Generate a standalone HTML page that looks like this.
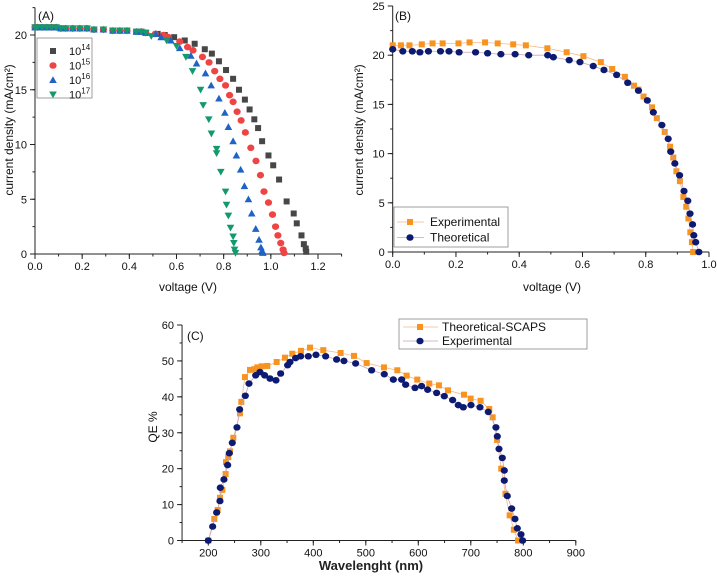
<!DOCTYPE html>
<html><head><meta charset="utf-8"><style>
html,body{margin:0;padding:0;background:#fff;}
svg{display:block;font-family:"Liberation Sans",sans-serif;}
</style></head><body>
<svg id="fig" width="717" height="576" viewBox="0 0 717 576" xmlns="http://www.w3.org/2000/svg"></svg>
<script>
// ---------- Panel A data ----------
const aFlatV = [0,0.01,0.03,0.05,0.07,0.09,0.11,0.13,0.16,0.19,0.22,0.25,0.29,0.33,0.36,0.39,0.43,0.45,0.47];
const aFlatJ = [20.7,20.7,20.7,20.7,20.7,20.7,20.6,20.6,20.6,20.6,20.6,20.5,20.5,20.4,20.4,20.4,20.3,20.3,20.2];
const a14V = [0.52,0.55,0.59,0.635,0.677,0.72,0.75,0.78,0.81,0.84,0.865,0.89,0.91,0.93,0.946,0.963,0.99,1.01,1.035,1.067,1.097,1.11,1.13,1.14,1.148,1.15];
const a14J = [20.1,20.0,19.8,19.5,19.2,18.7,18.3,17.6,16.8,16.0,15.0,14.1,13.2,12.3,11.5,10.3,9.0,8.1,6.8,4.8,3.7,2.8,1.7,0.9,0.5,0.2];
const a15V = [0.51,0.545,0.566,0.614,0.647,0.67,0.71,0.738,0.762,0.784,0.808,0.825,0.84,0.857,0.874,0.892,0.915,0.937,0.956,0.971,0.99,1.007,1.02,1.03,1.042,1.052,1.056];
const a15J = [20.1,20.0,19.8,19.4,18.9,18.6,18.0,17.5,16.7,16.0,15.4,14.5,13.9,13.0,12.2,11.1,9.7,8.5,7.2,5.7,4.7,3.6,2.5,1.7,1.0,0.4,0.1];
const a16V = [0.512,0.535,0.576,0.614,0.661,0.685,0.723,0.747,0.78,0.805,0.82,0.84,0.854,0.872,0.888,0.905,0.919,0.936,0.95,0.958,0.963,0.966];
const a16J = [20.1,19.8,19.5,18.8,18.1,17.4,16.5,15.4,14.2,12.9,11.6,10.3,9.0,7.7,6.2,5.0,3.7,2.3,1.3,0.6,0.3,0.1];
const a17V = [0.493,0.558,0.6,0.64,0.668,0.702,0.713,0.737,0.748,0.77,0.77,0.788,0.808,0.812,0.82,0.829,0.84,0.843,0.846,0.85];
const a17J = [19.9,19.5,19.0,18.0,16.7,15.0,13.6,12.3,11.0,9.6,9.2,7.5,5.7,4.5,3.5,2.4,1.6,1.0,0.4,0.1];
const aXTicks = [0,0.2,0.4,0.6,0.8,1.0,1.2];
const aXLabels = ["0.0","0.2","0.4","0.6","0.8","1.0","1.2"];
const aYTicks = [0,5,10,15,20];
// ---------- Panel B data ----------
const bExpV = [0,0.026,0.053,0.092,0.126,0.158,0.208,0.243,0.292,0.332,0.381,0.421,0.489,0.55,0.603,0.658,0.694,0.734,0.763,0.777,0.793,0.82,0.835,0.86,0.877,0.887,0.897,0.908,0.919,0.928,0.935,0.941,0.946,0.95];
const bExpJ = [21.0,21.0,21.0,21.1,21.2,21.2,21.2,21.3,21.3,21.2,21.1,21.0,20.7,20.3,19.9,19.3,18.6,17.8,16.9,16.5,15.8,14.7,13.6,12.2,10.7,9.6,8.2,7.2,5.6,4.6,3.4,2.0,1.0,0.0];
const bThV = [0,0.032,0.062,0.086,0.113,0.151,0.178,0.21,0.262,0.3,0.342,0.387,0.43,0.49,0.508,0.558,0.592,0.634,0.668,0.708,0.743,0.777,0.805,0.824,0.851,0.871,0.879,0.892,0.907,0.921,0.933,0.94,0.948,0.952,0.958,0.968];
const bThJ = [20.6,20.4,20.4,20.3,20.4,20.4,20.4,20.3,20.3,20.2,20.1,20.1,20.0,20.0,19.8,19.5,19.3,18.9,18.5,18.0,17.2,16.4,15.4,14.2,12.9,11.5,10.2,9.0,7.8,6.2,5.2,3.9,2.8,1.7,1.0,0.0];
const bXTicks = [0,0.2,0.4,0.6,0.8,1.0];
const bXLabels = ["0.0","0.2","0.4","0.6","0.8","1.0"];
const bYTicks = [0,5,10,15,20,25];
// ---------- Panel C data ----------
const cThW = [200,211.4,217.8,222.2,226.7,233,233.7,238,241.3,247.6,260.3,262.9,269.8,279.4,287.6,293.3,301.6,312.4,330.2,346,360,376.5,393.7,419,452,477.5,501.6,534.6,560,577.8,598,620.9,639.3,656.5,687,699.7,718.7,735.2,741.6,750,758,766,774,782,790];
const cThQ = [0,6.0,8.5,11.9,14.1,18.5,21.8,23.2,24.8,28.6,35.4,38.6,45.5,47.5,47.7,48.2,48.5,48.6,49.7,50.9,52.0,52.8,53.7,53.0,52.2,51.4,49.4,48.2,47.4,45.9,44.8,43.7,43.2,41.8,40.6,39.5,38.9,36.6,34.3,28,20,13,7,3,0];
const cExW = [200,208.3,215.9,222.2,222.9,229.8,236.8,240,245.7,254.6,259.7,270.5,277.5,290.2,298.4,307.3,317.5,328.9,337.8,351.1,355.6,366.3,375.9,390.5,405.1,423.5,444.4,458.4,480.6,511.1,535.2,552.4,568.3,575.9,593.7,606.3,617.8,634.9,649.5,665.4,676.2,685.7,700.3,717.5,733.3,747.9,750.5,753.7,760,763.8,763.8,769.5,777.8,784.1,788.6,795.6,798.7];
const cExQ = [0,3.9,7.8,11.0,14.7,17.0,21.0,24.3,27.2,31.5,36.5,40.3,43.7,46.0,46.9,46.0,45.1,44.6,46.5,48.8,49.7,50.8,51.3,51.3,51.7,51.3,50.4,50.0,49.3,47.4,46.3,44.8,44.8,43.4,42.5,43.0,42.0,41.1,40.2,39.1,37.7,37.1,37.7,37.1,35.8,31.5,29.0,25.5,23.0,19.5,16.7,12.4,8.9,6.0,3.4,1.7,0];
const cXTicks = [200,300,400,500,600,700,800,900];
const cYTicks = [0,10,20,30,40,50,60];

const svg = document.getElementById('fig');
const NS = 'http://www.w3.org/2000/svg';
function mk(tag, attrs, parent){
  const e = document.createElementNS(NS, tag);
  for (const k in attrs) e.setAttribute(k, attrs[k]);
  (parent||svg).appendChild(e);
  return e;
}
function txt(s, x, y, size, anchor, parent, extra){
  const t = mk('text', Object.assign({x:x, y:y, 'font-size':size, 'text-anchor':anchor||'middle', fill:'#111'}, extra||{}), parent);
  t.textContent = s;
  return t;
}
function scale(d0,d1,p0,p1){ return v => p0 + (v-d0)/(d1-d0)*(p1-p0); }

function axes(g, sx, sy, xr, yr, xTicks, xLabels, yTicks, xMinorStep, yMinorStep){
  const x0 = sx(xr[0]), x1 = sx(xr[1]), y0 = sy(yr[0]), y1 = sy(yr[1]);
  const xa = mk('line',{x1:x0,y1:y0,x2:x1,y2:y0,stroke:'#222','stroke-width':1},g);
  
  
  const ya = mk('line',{x1:x0,y1:y0,x2:x0,y2:y1,stroke:'#222','stroke-width':1},g);
  
  
  for (let v = xr[0]; v <= xr[1]+1e-9; v += xMinorStep){
    mk('line',{x1:sx(v),y1:y0,x2:sx(v),y2:y0+2.5,stroke:'#222','stroke-width':1},g);
  }
  for (let v = yr[0]; v <= yr[1]+1e-9; v += yMinorStep){
    mk('line',{x1:x0,y1:sy(v),x2:x0-2.5,y2:sy(v),stroke:'#222','stroke-width':1},g);
  }
  xTicks.forEach((v,i)=>{
    mk('line',{x1:sx(v),y1:y0,x2:sx(v),y2:y0+5,stroke:'#222','stroke-width':1},g);
    const t = txt(xLabels ? xLabels[i] : String(v), sx(v), y0+16, 11, 'middle', g);
    
    
  });
  yTicks.forEach(v=>{
    mk('line',{x1:x0,y1:sy(v),x2:x0-5,y2:sy(v),stroke:'#222','stroke-width':1},g);
    const t = txt(String(v), x0-8, sy(v)+4, 11, 'end', g);
    
    
  });
}
function marker(g, type, x, y, color){
  if (type==='sq') return mk('rect',{x:x-3,y:y-3,width:6,height:6,fill:color},g);
  if (type==='ci') return mk('ellipse',{cx:x,cy:y,rx:3.6,ry:3.3,fill:color},g);
  if (type==='up') return mk('polygon',{points:`${x},${y-3.8} ${x+3.8},${y+3} ${x-3.8},${y+3}`,fill:color},g);
  if (type==='dn') return mk('polygon',{points:`${x-3.8},${y-3} ${x+3.8},${y-3} ${x},${y+3.8}`,fill:color},g);
}
function series(g, name, xs, ys, sx, sy, type, color, line){
  const sg = mk('g',{},g);
  
  
  if (line){
    mk('polyline',{points: xs.map((v,i)=>sx(v)+','+sy(ys[i])).join(' '), fill:'none', stroke:line, 'stroke-width':0.8},sg);
  }
  xs.forEach((v,i)=>{
    const m = marker(sg, type, sx(v), sy(ys[i]), color);
    
    
  });
}

// ---------- Panel A ----------
const gA = mk('g',{});  
const axA = scale(0,1.2,35,318), ayA = scale(0,20,254,35);
axes(gA, axA, ayA, [0,1.3], [0,22.5], aXTicks, aXLabels, aYTicks, 0.1, 2.5);
const cGray='#474747', cRed='#ee4444', cBlue='#1f63c6', cGreen='#13996b';
series(gA,'series-1e14',aFlatV.concat(a14V),aFlatJ.concat(a14J),axA,ayA,'sq',cGray);
series(gA,'series-1e15',aFlatV.concat(a15V),aFlatJ.concat(a15J),axA,ayA,'ci',cRed);
series(gA,'series-1e16',aFlatV.concat(a16V),aFlatJ.concat(a16J),axA,ayA,'up',cBlue);
series(gA,'series-1e17',aFlatV.concat(a17V),aFlatJ.concat(a17J),axA,ayA,'dn',cGreen);
let t = txt('(A)',38,20,12,'start',gA);  
t = txt('voltage (V)',188,291,12,'middle',gA);  
t = txt('current density (mA/cm²)',0,0,12,'middle',gA,{transform:'translate(13,130) rotate(-90)'});  
const legA = mk('g',{},gA);  
mk('rect',{x:37,y:38,width:55,height:60,fill:'#fff',stroke:'#888','stroke-width':0.8},legA);
[['sq',cGray,'14'],['ci',cRed,'15'],['up',cBlue,'16'],['dn',cGreen,'17']].forEach((e,i)=>{
  const y = 51 + i*14.5;
  const eg = mk('g',{},legA);  
  marker(eg,e[0],53,y,e[1]);
  const tt = mk('text',{x:69,y:y+4,'font-size':11,fill:'#111'},eg);
  tt.appendChild(document.createTextNode('10'));
  const sp = mk('tspan',{dy:-5,'font-size':8},tt); sp.textContent = e[2];
});

// ---------- Panel B ----------
const gB = mk('g',{});  
const axB = scale(0,1.0,392.7,709), ayB = scale(0,25,252,6);
axes(gB, axB, ayB, [0,1.0], [0,25], bXTicks, bXLabels, bYTicks, 0.1, 2.5);
const cOrange='#f7931e', cNavy='#0c1a72';
series(gB,'series-experimental',bExpV,bExpJ,axB,ayB,'sq',cOrange,'#f6b98a');
series(gB,'series-theoretical',bThV,bThJ,axB,ayB,'ci',cNavy,'#c9a4b0');
t = txt('(B)',395,20,12,'start',gB);  
t = txt('voltage (V)',552,291,12,'middle',gB);  
t = txt('current density (mA/cm²)',0,0,12,'middle',gB,{transform:'translate(363,130) rotate(-90)'});  
const legB = mk('g',{},gB);  
mk('rect',{x:394,y:207,width:114,height:40,fill:'#fff',stroke:'#888','stroke-width':0.8},legB);
[['sq',cOrange,'#f6b98a','Experimental'],['ci',cNavy,'#c9a4b0','Theoretical']].forEach((e,i)=>{
  const y = 222 + i*15.5;
  const eg = mk('g',{},legB);  
  mk('line',{x1:397,y1:y,x2:424,y2:y,stroke:e[2],'stroke-width':0.8},eg);
  marker(eg,e[0],410,y,e[1]);
  txt(e[3],430,y+4,12,'start',eg);
});

// ---------- Panel C ----------
const gC = mk('g',{});  
const axC = scale(200,800,208.3,523.3), ayC = scale(0,60,540.5,325);
axes(gC, axC, ayC, [150,900], [0,60], cXTicks, null, cYTicks, 50, 5);
series(gC,'series-theoretical-scaps',cThW,cThQ,axC,ayC,'sq',cOrange,'#f6b98a');
series(gC,'series-experimental',cExW,cExQ,axC,ayC,'ci',cNavy,'#c9a4b0');
t = txt('(C)',187,340,12,'start',gC);  
t = txt('Wavelenght (nm)',371,570,13,'middle',gC,{'font-weight':'bold',fill:'#222'});  
t = txt('QE %',0,0,12,'middle',gC,{transform:'translate(157,427) rotate(-90)'});  
const legC = mk('g',{},gC);  
mk('rect',{x:399,y:319,width:188,height:30,fill:'#fff',stroke:'#888','stroke-width':0.8},legC);
[['sq',cOrange,'#f6b98a','Theoretical-SCAPS'],['ci',cNavy,'#c9a4b0','Experimental']].forEach((e,i)=>{
  const y = 327 + i*14;
  const eg = mk('g',{},legC);  
  mk('line',{x1:403,y1:y,x2:438,y2:y,stroke:e[2],'stroke-width':0.8},eg);
  marker(eg,e[0],420,y,e[1]);
  txt(e[3],442,y+4,12,'start',eg);
});
</script>
</body></html>
